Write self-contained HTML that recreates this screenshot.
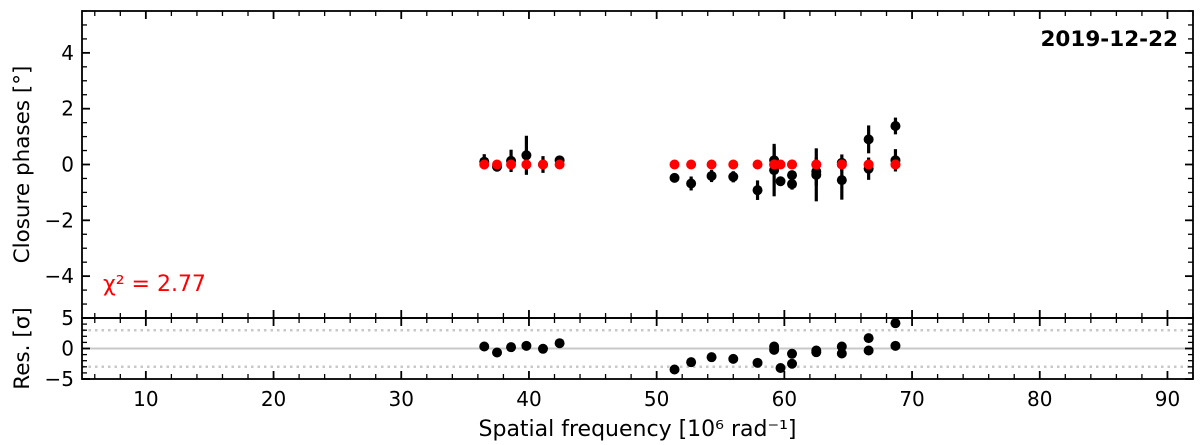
<!DOCTYPE html>
<html><head><meta charset="utf-8"><style>
html,body{margin:0;padding:0;background:#fff;}
svg{display:block;font-family:"DejaVu Sans","Liberation Sans",sans-serif;}
</style></head><body>
<svg id="chart" width="1200" height="445" viewBox="0 0 1200 445" xmlns="http://www.w3.org/2000/svg"></svg>
<script>
const xs =    [36.5,37.5,38.6,39.8,41.1,42.4, 51.4,52.7,54.3,56.0,57.9,59.2,59.2,59.7,60.6,60.6,62.5,62.5,64.5,64.5,66.6,66.6,68.7,68.7];
const cphase =[0.1,-0.08,0.13,0.33,0.0,0.15, -0.48,-0.68,-0.41,-0.44,-0.92,0.15,-0.2,-0.6,-0.38,-0.7,-0.25,-0.37,0.06,-0.56,0.9,-0.15,1.38,0.15];
const cerr =  [0.27,0.08,0.4,0.7,0.3,0.1, 0.08,0.25,0.22,0.2,0.35,0.5,0.94,0.1,0.15,0.2,0.5,0.95,0.3,0.7,0.5,0.4,0.3,0.4];
const model = [0,0,0,0,0,0, 0,0,0,0,0,0,0,0,0,0,0,0,0,0,0,0,0,0];
const resid = [0.33,-0.66,0.22,0.44,-0.05,0.87, -3.44,-2.24,-1.42,-1.7,-2.35,0.33,-0.22,-3.2,-0.87,-2.5,-0.33,-0.6,0.33,-0.82,1.7,-0.33,4.15,0.44];
const xTicks = [10,20,30,40,50,60,70,80,90];
const yTicks = [-4,-2,0,2,4];
const rTicks = [-5,0,5];

const svg=document.getElementById('chart');
const NS='http://www.w3.org/2000/svg';
const L=82,R=1193,T=11,M=318,B=379;
const X=v=>L+(v-5)/(92-5)*(R-L);
const Y=v=>T+(5.5-v)/11*(M-T);
const YR=v=>M+(5-v)/10*(B-M);
function el(tag,attrs,parent){const e=document.createElementNS(NS,tag);for(const k in attrs)e.setAttribute(k,attrs[k]);(parent||svg).appendChild(e);return e;}
function txt(s,attrs){const e=el('text',attrs);e.textContent=s;return e;}
const fmt=v=>v<0?'\u2212'+Math.abs(v):String(v);

let g=el('g',{});


el('line',{x1:L,x2:R,y1:YR(0),y2:YR(0),stroke:'#c8c8c8','stroke-width':2},g);
el('line',{x1:L,x2:R,y1:YR(3),y2:YR(3),stroke:'#c8c8c8','stroke-width':2.5,'stroke-dasharray':'2.5 4'},g);
el('line',{x1:L,x2:R,y1:YR(-3),y2:YR(-3),stroke:'#c8c8c8','stroke-width':2.5,'stroke-dasharray':'2.5 4'},g);

const tk=el('g',{stroke:'#000'});


for(let v=6;v<=92;v+=2){const x=X(v);const maj=v%10===0;const l=maj?8:5;
  for(const [y0,d] of [[T,1],[M,-1],[M,1],[B,-1]]) el('line',{x1:x,x2:x,y1:y0,y2:y0+d*l,'stroke-width':maj?1.8:1.3},tk);}
for(let v=-5.5;v<=5.5;v+=0.5){const y=Y(v);const maj=Math.abs(v%2)<1e-9;const l=maj?8:5;
  el('line',{x1:L,x2:L+l,y1:y,y2:y,'stroke-width':maj?1.8:1.3},tk);
  el('line',{x1:R,x2:R-l,y1:y,y2:y,'stroke-width':maj?1.8:1.3},tk);}
for(let v=-5;v<=5;v+=1){const y=YR(v);const maj=v%5===0;const l=maj?8:5;
  el('line',{x1:L,x2:L+l,y1:y,y2:y,'stroke-width':maj?1.8:1.3},tk);
  el('line',{x1:R,x2:R-l,y1:y,y2:y,'stroke-width':maj?1.8:1.3},tk);}

el('rect',{x:L,y:T,width:R-L,height:M-T,fill:'none',stroke:'#000','stroke-width':1.8});
el('rect',{x:L,y:M,width:R-L,height:B-M,fill:'none',stroke:'#000','stroke-width':1.8});

for(const v of xTicks){const t=txt(String(v),{x:X(v),y:B+27,'font-size':20,'text-anchor':'middle'});
  
  }
for(const v of yTicks){const t=txt(fmt(v),{x:L-8,y:Y(v)+7,'font-size':20,'text-anchor':'end'});
  
  }
for(const v of rTicks){const t=txt(fmt(v),{x:L-8,y:YR(v)+7,'font-size':20,'text-anchor':'end'});
  
  }

let t=txt('Closure phases [°]',{x:0,y:0,'font-size':21.5,'text-anchor':'middle',transform:`translate(29,${(T+M)/2}) rotate(-90)`});


t=txt('Res. [σ]',{x:0,y:0,'font-size':21.5,'text-anchor':'middle',transform:`translate(29,${(M+B)/2}) rotate(-90)`});


t=txt('Spatial frequency [10⁶ rad⁻¹]',{x:(L+R)/2,y:436,'font-size':22,'text-anchor':'middle'});


t=txt('2019-12-22',{x:1178,y:46,'font-size':21.5,'font-weight':'bold','text-anchor':'end'});


t=txt('χ² = 2.77',{x:103,y:291,'font-size':22,fill:'#ff0000'});



const dg=el('g',{});


xs.forEach((xv,i)=>{
  const eb=el('line',{x1:X(xv),x2:X(xv),y1:Y(cphase[i]-cerr[i]),y2:Y(cphase[i]+cerr[i]),stroke:'#000','stroke-width':3.2},dg);
  
  
  const c=el('circle',{cx:X(xv),cy:Y(cphase[i]),r:5,fill:'#000'},dg);
  
  
});
const mg=el('g',{});


xs.forEach((xv,i)=>{
  const c=el('circle',{cx:X(xv),cy:Y(model[i]),r:5,fill:'#ff0000'},mg);
  
  
});
const rg=el('g',{});


xs.forEach((xv,i)=>{
  const c=el('circle',{cx:X(xv),cy:YR(resid[i]),r:5,fill:'#000'},rg);
  
  
});
</script>
</body></html>
